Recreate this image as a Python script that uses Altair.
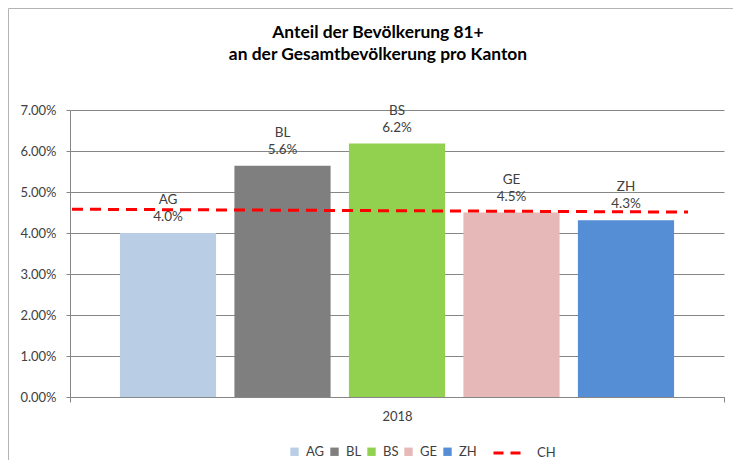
import altair as alt
import pandas as pd

jahr = "2018"
kantone = ["AG", "BL", "BS", "GE", "ZH"]
anteile = [0.0400, 0.0564, 0.0618, 0.0450, 0.0431]
farben = ["#b9cde5", "#7f7f7f", "#92d050", "#e6b9b8", "#558ed5"]
ch_name = "CH"
ch_links = 0.0458
ch_rechts = 0.0451
y_ticks = [0.0, 0.01, 0.02, 0.03, 0.04, 0.05, 0.06, 0.07]
titel = ["Anteil der Bevölkerung 81+", "an der Gesamtbevölkerung pro Kanton"]

df = pd.DataFrame({"Jahr": [jahr] * len(kantone), "Kanton": kantone, "Anteil": anteile})
df_ch = pd.DataFrame({"Serie": [ch_name], "links": [ch_links], "rechts": [ch_rechts]})

FONT = "Lato"
GRID = "#868686"
TXT = "#404040"

x_enc = alt.X(
    "Jahr:N",
    scale=alt.Scale(paddingInner=0, paddingOuter=0),
    axis=alt.Axis(
        title=None, labelAngle=0, tickBand="extent", tickSize=5,
        tickColor=GRID, domainColor=GRID, labelFont=FONT, labelFontSize=13,
        labelColor=TXT, labelPadding=8, grid=False,
    ),
)
xoff_enc = alt.XOffset(
    "Kanton:N", sort=kantone,
    scale=alt.Scale(paddingInner=0.16, paddingOuter=0.436),
)
y_enc = alt.Y(
    "Anteil:Q",
    scale=alt.Scale(domain=[0, 0.07], nice=False),
    axis=alt.Axis(
        values=y_ticks, format=".2%", title=None, grid=True, gridColor=GRID,
        domainColor=GRID, tickColor=GRID, tickSize=4, labelPadding=10,
        labelFont=FONT, labelFontSize=13, labelColor=TXT,
    ),
)

# chart-area frame (decoration, like the spreadsheet chart border)
frame = alt.Chart(df_ch).mark_rect(
    fill="transparent", stroke="#b4b4b4", strokeWidth=1
).encode(
    x=alt.value(-61.5), x2=alt.value(720),
    y=alt.value(-101.5), y2=alt.value(400),
)

bars = alt.Chart(df).mark_bar().encode(
    x=x_enc,
    xOffset=xoff_enc,
    y=y_enc,
    fill=alt.Fill(
        "Kanton:N",
        scale=alt.Scale(domain=kantone, range=farben),
        legend=alt.Legend(
            orient="none", legendX=218, legendY=335, direction="horizontal",
            title=None, symbolType="square", symbolSize=70, symbolStrokeWidth=0,
            labelFont=FONT, labelFontSize=13, labelColor=TXT, columnPadding=3,
            labelOffset=5, padding=0,
        ),
    ),
)

labels = alt.Chart(df).transform_calculate(
    label="[datum.Kanton, format(datum.Anteil, '.1%')]"
).mark_text(
    baseline="bottom", dy=-26, lineHeight=17, fontSize=13.5, font=FONT, color=TXT
).encode(
    x=x_enc,
    xOffset=xoff_enc,
    y=alt.Y("Anteil:Q"),
    text="label:N",
)

ch_line = alt.Chart(df_ch).mark_rule(strokeWidth=3, strokeDash=[11, 7]).encode(
    x=alt.value(2),
    x2=alt.value(618),
    y=alt.Y("links:Q"),
    y2=alt.Y2("rechts:Q"),
    stroke=alt.Stroke(
        "Serie:N",
        scale=alt.Scale(domain=[ch_name], range=["#ff0000"]),
        legend=alt.Legend(
            orient="none", legendX=422, legendY=326, title=None,
            symbolType="stroke", symbolSize=961, symbolStrokeWidth=3,
            symbolDash=[10, 7], labelOffset=11, padding=0,
            labelFont=FONT, labelFontSize=13, labelColor=TXT,
        ),
    ),
)

chart = alt.layer(frame, bars, labels, ch_line).properties(
    width=654,
    height=287,
    title=alt.Title(
        titel, font=FONT, fontSize=17.4, fontWeight="bold", color="#000000",
        anchor="middle", dx=-19, offset=-55, lineHeight=22,
    ),
    autosize=alt.AutoSizeParams(type="none"),
    padding={"left": 62, "top": 102, "right": 9, "bottom": 63},
).configure_view(stroke="transparent")

chart.save("out.html", embed_options={"renderer": "svg", "actions": False})
